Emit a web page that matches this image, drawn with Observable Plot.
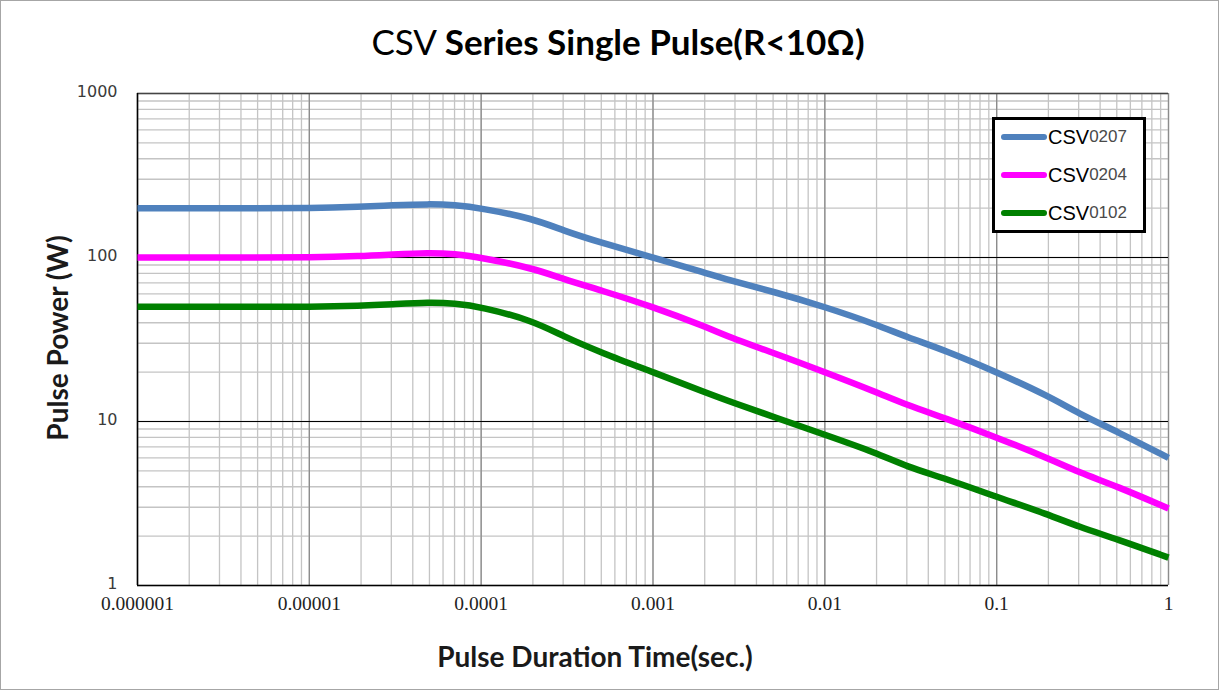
<!DOCTYPE html>
<html>
<head>
<meta charset="utf-8">
<script src="https://cdn.jsdelivr.net/npm/d3@7"></script>
<script src="https://cdn.jsdelivr.net/npm/@observablehq/plot@0.6"></script>
<style>
  html, body { margin: 0; padding: 0; background: #fff; }
  #wrap { position: relative; width: 1221px; height: 692px; overflow: hidden; }
  #border { position: absolute; left: 0; top: 0; width: 1217px; height: 688px; border: 1px solid #a6a6a6; }
  #title { position: absolute; left: 0; top: 20px; width: 1236px; text-align: center;
           font-family: Lato, "Open Sans", sans-serif; font-size: 35px; color: #000; }
  #title .n { font-weight: 400; }
  #title .b { font-weight: 700; }
  #chart { position: absolute; left: 0; top: 70px; }
  #xtitle { position: absolute; left: 345px; width: 500px; top: 639px; text-align: center;
            font-family: Lato, "Open Sans", sans-serif; font-weight: 700; font-size: 28px; color: #1a1a1a; }
  #ytitle { position: absolute; left: 57px; top: 338px; transform: translate(-50%, -50%) rotate(-90deg);
            white-space: nowrap; font-family: Lato, "Open Sans", sans-serif; font-weight: 700; font-size: 28px; color: #1a1a1a; }
  #legend { position: absolute; left: 992px; top: 117px; width: 148px; height: 110px;
            border: 3px solid #000; background: #fff; }
  .row { position: absolute; left: 6px; height: 24px; display: flex; align-items: center; white-space: nowrap; }
  .sw { display: inline-block; width: 46px; height: 6px; border-radius: 3px; margin-right: 1px; }
  .csv { font-family: "Liberation Sans", Arial, sans-serif; font-size: 20px; color: #000; }
  .num { font-family: "Liberation Sans", Arial, sans-serif; font-size: 17px; color: #4a4a4a; }
</style>
</head>
<body>
<div id="wrap">
  <div id="border"></div>
  <div id="title"><span class="n">CSV </span><span class="b">Series Single Pulse(R&lt;10Ω)</span></div>
  <div id="chart"></div>
  <div id="xtitle">Pulse Duration Time(sec.)</div>
  <div id="ytitle">Pulse Power (W)</div>
  <div id="legend"></div>
</div>
<script>
// ---- data ----
const seriesNames = ["CSV0207", "CSV0204", "CSV0102"];
const legendPrefix = ["CSV ", "CSV", "CSV"];
const legendSuffix = ["0207", "0204", "0102"];
const seriesColors = ["#4f81bd", "#ff00ff", "#008000"];

const durations = [1e-6, 2e-6, 5e-6, 1e-5, 2e-5, 3e-5, 5e-5, 7e-5, 1e-4, 2e-4, 3e-4, 5e-4,
                   1e-3, 2e-3, 3e-3, 5e-3, 1e-2, 2e-2, 3e-2, 5e-2, 0.1, 0.2, 0.3, 0.5, 1];
const csv0207 = [200, 200, 200, 200, 204, 208, 212, 209, 200, 173, 146, 123,
                 100, 81, 71, 62, 50, 39, 32.7, 27.2, 20, 14.3, 11.2, 8.7, 6];
const csv0204 = [100, 100, 100, 100, 102, 104.3, 107, 105.2, 100, 86, 74, 63,
                 50, 38, 31.6, 26.3, 20, 15.1, 12.6, 10.5, 8, 5.96, 4.9, 4.03, 2.95];
const csv0102 = [50, 50, 50, 50, 50.8, 51.8, 53.3, 52.5, 50, 41.2, 33.1, 26.3,
                 20, 15.1, 12.9, 10.7, 8.3, 6.43, 5.3, 4.5, 3.47, 2.71, 2.28, 1.92, 1.48];

const xTicks = [1e-6, 1e-5, 1e-4, 1e-3, 1e-2, 1e-1, 1];
const xTickLabels = ["0.000001", "0.00001", "0.0001", "0.001", "0.01", "0.1", "1"];
const yTicks = [1, 10, 100, 1000];
const yTickLabels = ["1", "10", "100", "1000"];

// ---- build tidy table ----
const valuesBySeries = [csv0207, csv0204, csv0102];
const rows = [];
seriesNames.forEach((name, s) => {
  durations.forEach((t, i) => rows.push({series: name, t, p: valuesBySeries[s][i]}));
});
const xLabelOf = (d) => xTickLabels[xTicks.findIndex((v) => Math.abs(Math.log10(v) - Math.log10(d)) < 1e-6)];
const yLabelOf = (d) => yTickLabels[yTicks.findIndex((v) => Math.abs(Math.log10(v) - Math.log10(d)) < 1e-6)];

const chart = Plot.plot({
  width: 1221,
  height: 622,
  marginLeft: 137,
  marginRight: 53,
  marginTop: 23,
  marginBottom: 107,
  style: {background: "transparent", overflow: "visible"},
  x: {type: "log", domain: [1e-6, 1], axis: null},
  y: {type: "log", domain: [1, 1000], axis: null},
  color: {domain: seriesNames, range: seriesColors},
  marks: [
    Plot.gridX({ticks: 40, stroke: "#c4c4c4", strokeOpacity: 1, strokeWidth: 1.3}),
    Plot.gridY({ticks: 40, stroke: "#c4c4c4", strokeOpacity: 1, strokeWidth: 1.3}),
    Plot.gridX({ticks: xTicks, stroke: "#8c8c8c", strokeOpacity: 1, strokeWidth: 1.3}),
    Plot.ruleY([10, 100], {stroke: "#000", strokeWidth: 1.2}),
    Plot.ruleY([1000], {stroke: "#444", strokeWidth: 1.3}),
    Plot.ruleY([1], {stroke: "#000", strokeWidth: 1.5}),
    Plot.ruleX([1e-6], {stroke: "#000", strokeWidth: 1.5}),
    Plot.line(rows, {x: "t", y: "p", z: "series", stroke: "series",
                     strokeWidth: 6.5, curve: "basis", strokeLinecap: "butt"}),
    Plot.text(xTicks, {x: (d) => d, text: xLabelOf, frameAnchor: "bottom", dy: 24,
                       fontSize: 19.5, fontFamily: "Liberation Serif, serif", fill: "#222"}),
    Plot.text(yTicks, {y: (d) => d, text: yLabelOf, frameAnchor: "left", dx: -20, dy: -2, textAnchor: "end",
                       fontSize: 16, fontFamily: "DejaVu Sans, sans-serif", fill: "#3a3a3a"})
  ]
});
document.getElementById("chart").appendChild(chart);

// ---- legend ----
const legend = document.getElementById("legend");
const rowTops = [5, 43, 81];
seriesNames.forEach((name, i) => {
  const r = document.createElement("div");
  r.className = "row";
  r.style.top = rowTops[i] + "px";
  r.innerHTML = `<span class="sw" style="background:${seriesColors[i]}"></span>` +
                `<span class="csv">${legendPrefix[i]}</span><span class="num">${legendSuffix[i]}</span>`;
  legend.appendChild(r);
});
</script>
</body>
</html>
